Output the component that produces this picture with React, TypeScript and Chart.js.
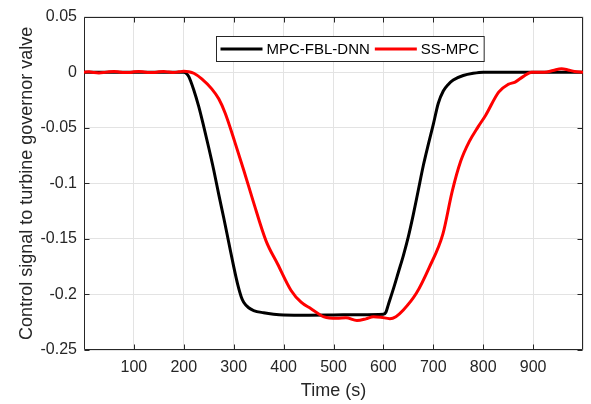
import React, { useEffect, useRef } from 'react';
import { Chart, registerables } from 'chart.js';

Chart.register(...registerables);

const FONT = '"Liberation Sans", Arial, Helvetica, sans-serif';
const TEXT_COLOR = '#262626';

// Time axis (s) and control signal values
const blackTime = [0, 50, 100, 150, 200, 205, 210, 220, 230, 240, 250, 260, 270, 280, 290, 300, 308, 315, 320, 330, 340, 360, 380, 400, 450, 500, 550, 600, 605, 610, 620, 630, 640, 650, 660, 670, 680, 690, 700, 710, 720, 730, 740, 760, 780, 800, 850, 900, 950, 1000];
const blackVal = [0, 0, 0, 0, 0, -0.001, -0.004, -0.016, -0.031, -0.049, -0.068, -0.088, -0.110, -0.131, -0.153, -0.175, -0.191, -0.202, -0.207, -0.212, -0.2145, -0.2165, -0.2178, -0.2185, -0.2187, -0.2185, -0.2182, -0.2178, -0.216, -0.209, -0.195, -0.180, -0.165, -0.148, -0.128, -0.106, -0.084, -0.065, -0.047, -0.028, -0.017, -0.011, -0.007, -0.003, -0.001, 0, 0, 0, 0, 0];

const redTime = [0, 10, 20, 30, 40, 50, 60, 70, 80, 90, 100, 110, 120, 130, 140, 150, 160, 170, 180, 190, 200, 210, 220, 236, 256, 270, 283, 302, 320, 339, 365, 388, 415, 435, 455, 481, 507, 525, 547, 565, 580, 595, 613, 625, 640, 666, 692, 719, 738, 755, 772, 790, 805, 831, 850, 864, 880, 897, 923, 940, 957, 970, 983, 1000];
const redVal = [0, 0.0003, -0.0004, -0.0007, -0.0003, 0.0004, 0.0006, 0.0002, -0.0004, -0.0004, 0.0003, 0.0006, 0.0002, -0.0004, -0.0003, 0.0003, 0.0005, 0.0001, -0.0003, 0.0003, 0.0008, 0.0004, -0.001, -0.006, -0.015, -0.024, -0.037, -0.0625, -0.088, -0.116, -0.152, -0.1726, -0.1964, -0.207, -0.2128, -0.2202, -0.2215, -0.221, -0.2235, -0.222, -0.220, -0.2205, -0.2218, -0.220, -0.214, -0.199, -0.1756, -0.146, -0.107, -0.08, -0.0625, -0.049, -0.0387, -0.0179, -0.011, -0.0089, -0.004, 0, 0, 0.0015, 0.003, 0.002, 0.0006, 0];

const seriesNames = ['MPC-FBL-DNN', 'SS-MPC'];
const seriesColors = ['#000000', '#ff0000'];

const xMin = 0;
const xMax = 1000;
const xStep = 100;
const yMin = -0.25;
const yMax = 0.05;
const yStep = 0.05;

const xTitle = 'Time (s)';
const yTitle = 'Control signal to turbine governor valve';

const toPoints = (xs: number[], ys: number[]) => xs.map((x, i) => ({ x, y: ys[i] }));

const axesBoxPlugin = {
  id: 'axesBox',
  beforeDatasetsDraw(chart: any) {
    const { ctx, chartArea: a, scales } = chart;
    const L = Math.round(a.left) + 0.5;
    const R = Math.round(a.right) - 0.5;
    const T = Math.round(a.top) + 0.5;
    const B = Math.round(a.bottom) - 0.5;
    ctx.save();
    ctx.strokeStyle = TEXT_COLOR;
    ctx.lineWidth = 1;
    ctx.beginPath();
    ctx.rect(L, T, R - L, B - T);
    ctx.stroke();
    const tl = 5;
    ctx.beginPath();
    for (let v = xMin + xStep; v < xMax; v += xStep) {
      const px = Math.round(scales.x.getPixelForValue(v)) + 0.5;
      ctx.moveTo(px, B);
      ctx.lineTo(px, B - tl);
      ctx.moveTo(px, T);
      ctx.lineTo(px, T + tl);
    }
    for (let i = 0; i <= Math.round((yMax - yMin) / yStep); i++) {
      const v = yMin + i * yStep;
      const py = Math.round(scales.y.getPixelForValue(v)) + 0.5;
      ctx.moveTo(L, py);
      ctx.lineTo(L + tl, py);
      ctx.moveTo(R, py);
      ctx.lineTo(R - tl, py);
    }
    ctx.stroke();
    ctx.restore();
  },
};

const titlesPlugin = {
  id: 'titlesDraw',
  afterDraw(chart: any) {
    const { ctx, chartArea: a } = chart;
    ctx.save();
    ctx.fillStyle = TEXT_COLOR;
    ctx.font = `18px ${FONT}`;
    ctx.textAlign = 'center';
    ctx.textBaseline = 'middle';
    ctx.fillText(xTitle, (a.left + a.right) / 2, 391);
    ctx.translate(27, (a.top + a.bottom) / 2);
    ctx.rotate(-Math.PI / 2);
    ctx.fillText(yTitle, 0, 0);
    ctx.restore();
  },
};

const legendPlugin = {
  id: 'legendDraw',
  afterDraw(chart: any) {
    const { ctx, chartArea: a } = chart;
    ctx.save();
    ctx.font = `15px ${FONT}`;
    const t1 = ctx.measureText(seriesNames[0]).width;
    const t2 = ctx.measureText(seriesNames[1]).width;
    const padL = 4, lineLen = 42, gap = 4, itemGap = 5, padR = 5;
    const w = padL + lineLen + gap + t1 + itemGap + lineLen + gap + t2 + padR;
    const h = 25;
    const x0 = Math.round(a.left + 132) + 0.5;
    const y0 = Math.round(a.top + 19) + 0.5;
    ctx.fillStyle = '#ffffff';
    ctx.fillRect(x0, y0, w, h);
    ctx.strokeStyle = TEXT_COLOR;
    ctx.lineWidth = 1;
    ctx.strokeRect(x0, y0, w, h);
    const cy = y0 + h / 2;
    let x = x0 + padL;
    const widths = [t1, t2];
    for (let i = 0; i < 2; i++) {
      ctx.strokeStyle = seriesColors[i];
      ctx.lineWidth = 3;
      ctx.beginPath();
      ctx.moveTo(x, cy);
      ctx.lineTo(x + lineLen, cy);
      ctx.stroke();
      x += lineLen + gap;
      ctx.fillStyle = '#000000';
      ctx.textAlign = 'left';
      ctx.textBaseline = 'middle';
      ctx.fillText(seriesNames[i], x, cy + 1);
      x += widths[i] + itemGap;
    }
    ctx.restore();
  },
};

export default function App() {
  const ref = useRef<HTMLCanvasElement>(null);
  useEffect(() => {
    const chart = new Chart(ref.current as HTMLCanvasElement, {
      type: 'line',
      data: {
        datasets: [
          {
            label: seriesNames[0],
            data: toPoints(blackTime, blackVal),
            borderColor: seriesColors[0],
            backgroundColor: seriesColors[0],
            borderWidth: 3,
            pointRadius: 0,
            cubicInterpolationMode: 'monotone',
            order: 1,
          },
          {
            label: seriesNames[1],
            data: toPoints(redTime, redVal),
            borderColor: seriesColors[1],
            backgroundColor: seriesColors[1],
            borderWidth: 3,
            pointRadius: 0,
            cubicInterpolationMode: 'monotone',
            order: 0,
          },
        ],
      } as any,
      options: {
        responsive: false,
        animation: false,
        events: [],
        layout: { padding: { top: 14, right: 3, left: 0, bottom: 0 } },
        plugins: {
          legend: { display: false },
          tooltip: { enabled: false },
          title: { display: false },
        },
        scales: {
          x: {
            type: 'linear',
            min: xMin,
            max: xMax,
            afterFit: (s: any) => { s.height = 54; },
            border: { display: false },
            grid: { color: '#e3e3e3', drawTicks: false, lineWidth: 1 },
            ticks: {
              stepSize: xStep,
              autoSkip: false,
              maxRotation: 0,
              padding: 8,
              color: TEXT_COLOR,
              font: { family: FONT, size: 16 },
              callback: (v: any) => (v <= xMin || v >= xMax ? '' : String(v)),
            },
          },
          y: {
            type: 'linear',
            min: yMin,
            max: yMax,
            afterFit: (s: any) => { s.width = 84; },
            border: { display: false },
            grid: { color: '#e3e3e3', drawTicks: false, lineWidth: 1 },
            ticks: {
              stepSize: yStep,
              autoSkip: false,
              padding: 7,
              color: TEXT_COLOR,
              font: { family: FONT, size: 16 },
              callback: (v: any) => {
                const n = Number(Number(v).toFixed(2));
                return n === 0 ? '0' : String(n);
              },
            },
          },
        },
      } as any,
      plugins: [axesBoxPlugin, legendPlugin, titlesPlugin],
    });
    return () => chart.destroy();
  }, []);
  return (
    <div style={{ position: 'fixed', left: 0, top: 0, width: 591, height: 404, background: '#ffffff' }}>
      <canvas ref={ref} width={591} height={404} style={{ display: 'block' }} />
    </div>
  );
}
